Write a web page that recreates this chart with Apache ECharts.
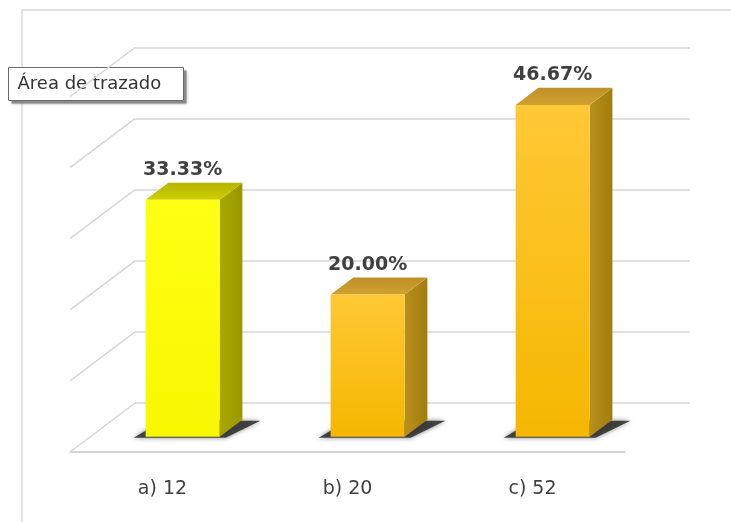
<!DOCTYPE html>
<html>
<head>
<meta charset="utf-8">
<title>Área de trazado</title>
<script src="https://cdn.jsdelivr.net/npm/echarts@6/dist/echarts.min.js"></script>
<style>
  html, body { margin: 0; padding: 0; background: #ffffff; }
  #chart { width: 731px; height: 522px; }
</style>
</head>
<body>
<div id="chart"></div>
<script>
// Answer options and the share of responses for each one (percent)
const categories = ['a) 12', 'b) 20', 'c) 52'];
const shares = [33.33, 20.00, 46.67];
// Value axis range and the gridline steps drawn on the back wall
const axisMin = 0;
const axisMax = 50;
const axisStep = 10;
const wallTicks = [0, 10, 20, 30, 40, 50];

// Face colours per bar: front (top->bottom), side, top
const palette = [
  { front: ['#ffff14', '#f7f700'], side: ['#a8a800', '#989800'], top: ['#b5b500', '#cece00'] },
  { front: ['#ffc836', '#f5b700'], side: ['#b8901e', '#a27c0c'], top: ['#bf8f28', '#d0a230'] },
  { front: ['#ffc836', '#f5b700'], side: ['#b8901e', '#a27c0c'], top: ['#bf8f28', '#d0a230'] }
];

// Oblique projection of the floor depth (front edge -> back wall)
const DEPTH_X = 65;
const DEPTH_Y = 49;
const BAR_FRONT = 0.31;   // depth fraction where the bar's front face sits
const BAR_DEPTH = 0.35;   // depth fraction occupied by a bar
const BAR_HALF = 0.2;     // half bar width as fraction of category band

function grad(c0, c1, horizontal) {
  return new echarts.graphic.LinearGradient(0, 0, horizontal ? 1 : 0, horizontal ? 0 : 1,
    [{ offset: 0, color: c0 }, { offset: 1, color: c1 }]);
}

function renderBar(params, api) {
  const i = api.value(0);
  const v = api.value(1);
  const base = api.coord([i, 0]);
  const peak = api.coord([i, v]);
  const half = api.size([1, 0])[0] * BAR_HALF;
  const fx = DEPTH_X * BAR_FRONT, fy = DEPTH_Y * BAR_FRONT;
  const sx = DEPTH_X * BAR_DEPTH, sy = DEPTH_Y * BAR_DEPTH;
  const cx = base[0] + fx;
  const x1 = cx - half, x2 = cx + half;
  const yb = base[1] - fy, yt = peak[1] - fy;
  const c = palette[i];
  return {
    type: 'group',
    children: [
      { // floor shadow under the bar
        type: 'polygon',
        shape: { points: [[x1 - 12, yb + 1], [x2 + 6, yb + 1], [x2 + sx + 18, yb - sy + 1], [x1 + sx - 6, yb - sy + 1]] },
        style: { fill: 'rgba(45,45,45,0.85)', shadowBlur: 5, shadowColor: 'rgba(0,0,0,0.55)' }
      },
      { // side face
        type: 'polygon',
        shape: { points: [[x2, yt], [x2 + sx, yt - sy], [x2 + sx, yb - sy], [x2, yb]] },
        style: { fill: grad(c.side[0], c.side[1], true) }
      },
      { // top face
        type: 'polygon',
        shape: { points: [[x1, yt], [x1 + sx, yt - sy], [x2 + sx, yt - sy], [x2, yt]] },
        style: { fill: grad(c.top[0], c.top[1], false) }
      },
      { // front face
        type: 'rect',
        shape: { x: x1, y: yt, width: x2 - x1, height: yb - yt },
        style: { fill: grad(c.front[0], c.front[1], false) }
      },
      { // value label
        type: 'text',
        style: {
          x: cx, y: yt - sy - 3,
          text: v.toFixed(2) + '%',
          align: 'center', verticalAlign: 'bottom',
          font: 'bold 19px "DejaVu Sans"',
          fill: '#404040'
        }
      }
    ]
  };
}

function renderSideWall(params, api) {
  const y = api.coord([0, api.value(0)])[1];
  const x0 = params.coordSys.x;
  return {
    type: 'line',
    shape: { x1: x0, y1: y, x2: x0 + DEPTH_X, y2: y - DEPTH_Y },
    style: { stroke: '#d6d6d6', lineWidth: 1.5 }
  };
}

const chart = echarts.init(document.getElementById('chart'), null, { renderer: 'canvas' });

chart.setOption({
  backgroundColor: '#ffffff',
  animation: false,
  grid: [
    { left: 70, right: 106, top: 96.5, bottom: 70 },      // front plane / floor edge
    { left: 135, right: 41, top: 47.5, bottom: 119 }      // back wall
  ],
  xAxis: [
    {
      gridIndex: 0, type: 'category', data: categories,
      axisLine: { lineStyle: { color: '#c8c8c8', width: 1.5 } },
      axisTick: { length: 5, lineStyle: { color: '#c8c8c8' } },
      axisLabel: { margin: 28, color: '#404040', fontSize: 19, fontFamily: 'DejaVu Sans' },
      splitLine: { show: false }
    },
    { gridIndex: 1, type: 'category', data: categories, show: false }
  ],
  yAxis: [
    {
      gridIndex: 0, type: 'value', min: axisMin, max: axisMax, interval: axisStep,
      show: false, splitLine: { show: false }
    },
    {
      gridIndex: 1, type: 'value', min: axisMin, max: axisMax, interval: axisStep,
      axisLine: { show: false }, axisTick: { show: false }, axisLabel: { show: false },
      splitLine: { lineStyle: { color: '#d6d6d6', width: 1.5 } }
    }
  ],
  series: [
    {
      type: 'custom', xAxisIndex: 0, yAxisIndex: 0,
      data: wallTicks.map(t => [t]),
      renderItem: renderSideWall, silent: true, z: 1
    },
    {
      type: 'custom', xAxisIndex: 0, yAxisIndex: 0,
      data: shares.map((s, i) => [i, s]),
      renderItem: renderBar, z: 5
    }
  ],
  graphic: [
    { // chart area frame
      type: 'rect', z: 0, silent: true,
      shape: { x: 22, y: 10, width: 760, height: 530 },
      style: { fill: 'none', stroke: '#d9d9d9', lineWidth: 1.5 }
    },
    { // hover hint box
      type: 'group', left: 8, top: 67, z: 100,
      children: [
        { type: 'rect', shape: { x: 3, y: 3, width: 175, height: 33 },
          style: { fill: '#8a8a8a', shadowBlur: 3, shadowColor: 'rgba(0,0,0,0.4)' } },
        { type: 'rect', shape: { x: 0, y: 0, width: 175, height: 33 },
          style: { fill: '#ffffff', stroke: '#6a6a6a', lineWidth: 1 } },
        { type: 'text', style: { x: 9, y: 17, text: 'Área de trazado', verticalAlign: 'middle',
          font: '18px "DejaVu Sans"', fill: '#333333' } }
      ]
    }
  ]
});
</script>
</body>
</html>
